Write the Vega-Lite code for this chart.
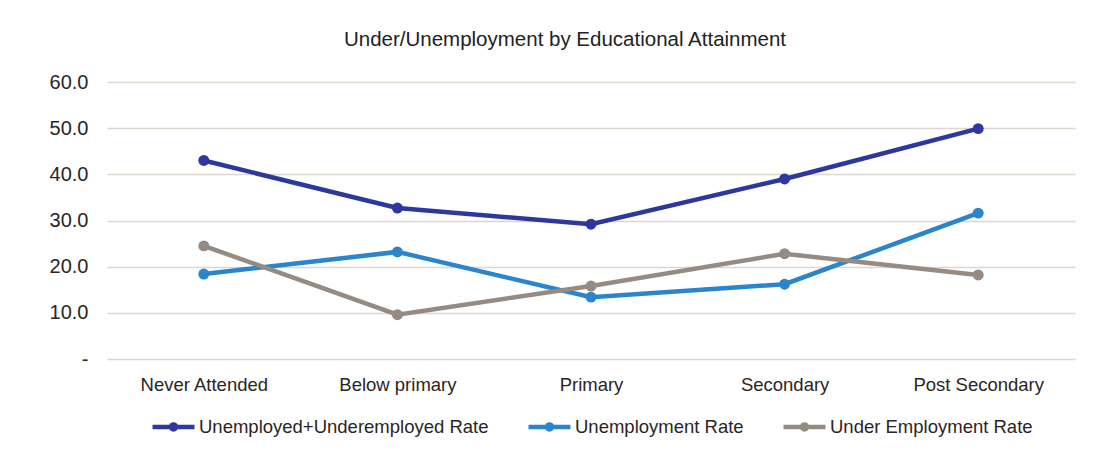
{
  "$schema": "https://vega.github.io/schema/vega-lite/v6.json",
  "autosize": "none",
  "width": 968,
  "height": 277,
  "padding": {"left": 107, "top": 82, "right": 33, "bottom": 93},
  "background": "white",
  "title": {
    "text": "Under/Unemployment by Educational Attainment",
    "fontSize": 20.5,
    "font": "Liberation Sans",
    "fontWeight": "normal",
    "color": "#222222",
    "anchor": "middle",
    "dx": -26,
    "offset": 22
  },
  "config": {
    "view": {"stroke": null},
    "font": "Liberation Sans",
    "legend": {"layout": {"bottom": {"anchor": "middle"}}}
  },
  "data": {
    "values": [
      {"level": "Never Attended", "series": "Unemployed+Underemployed Rate", "rate": 43.0},
      {"level": "Below primary", "series": "Unemployed+Underemployed Rate", "rate": 32.7},
      {"level": "Primary", "series": "Unemployed+Underemployed Rate", "rate": 29.2},
      {"level": "Secondary", "series": "Unemployed+Underemployed Rate", "rate": 39.0},
      {"level": "Post Secondary", "series": "Unemployed+Underemployed Rate", "rate": 49.9},
      {"level": "Never Attended", "series": "Unemployment Rate", "rate": 18.4},
      {"level": "Below primary", "series": "Unemployment Rate", "rate": 23.2},
      {"level": "Primary", "series": "Unemployment Rate", "rate": 13.4},
      {"level": "Secondary", "series": "Unemployment Rate", "rate": 16.2},
      {"level": "Post Secondary", "series": "Unemployment Rate", "rate": 31.6},
      {"level": "Never Attended", "series": "Under Employment Rate", "rate": 24.5},
      {"level": "Below primary", "series": "Under Employment Rate", "rate": 9.6},
      {"level": "Primary", "series": "Under Employment Rate", "rate": 15.8},
      {"level": "Secondary", "series": "Under Employment Rate", "rate": 22.8},
      {"level": "Post Secondary", "series": "Under Employment Rate", "rate": 18.2}
    ]
  },
  "mark": {"type": "line", "strokeWidth": 4.5, "point": {"size": 120, "filled": true, "opacity": 1}},
  "encoding": {
    "x": {
      "field": "level",
      "type": "nominal",
      "sort": ["Never Attended", "Below primary", "Primary", "Secondary", "Post Secondary"],
      "scale": {"type": "point", "padding": 0.5},
      "axis": {
        "title": null,
        "domain": false,
        "ticks": false,
        "grid": false,
        "labelAngle": 0,
        "labelFontSize": 18.5,
        "labelColor": "#2b2522",
        "labelPadding": 16,
        "labelFont": "Liberation Sans"
      }
    },
    "y": {
      "field": "rate",
      "type": "quantitative",
      "scale": {"domain": [0, 60], "nice": false},
      "axis": {
        "title": null,
        "domain": false,
        "ticks": false,
        "values": [0, 10, 20, 30, 40, 50, 60],
        "labelExpr": "datum.value == 0 ? '-\u00a0\u00a0' : format(datum.value, '.1f')",
        "labelFontSize": 20,
        "labelColor": "#2b2522",
        "labelPadding": 19,
        "labelFont": "Liberation Sans",
        "gridColor": "#dcd6cd",
        "gridWidth": 1.5
      }
    },
    "color": {
      "field": "series",
      "type": "nominal",
      "sort": ["Unemployed+Underemployed Rate", "Unemployment Rate", "Under Employment Rate"],
      "scale": {
        "domain": ["Unemployed+Underemployed Rate", "Unemployment Rate", "Under Employment Rate"],
        "range": ["#2d37a0", "#2a85cc", "#968b82"]
      },
      "legend": {
        "title": null,
        "orient": "bottom",
        "direction": "horizontal",
        "offset": 9,
        "labelFontSize": 18.5,
        "labelColor": "#2b2522",
        "labelFont": "Liberation Sans",
        "labelLimit": 400,
        "labelOffset": 2,
        "columnPadding": 30,
        "symbolType": "M-1,0L1,0M-0.12,0A0.12,0.12 0 1,1 0.12,0A0.12,0.12 0 1,1 -0.12,0Z",
        "symbolSize": 1760,
        "symbolStrokeWidth": 4.5,
        "symbolOpacity": 1
      }
    }
  }
}
